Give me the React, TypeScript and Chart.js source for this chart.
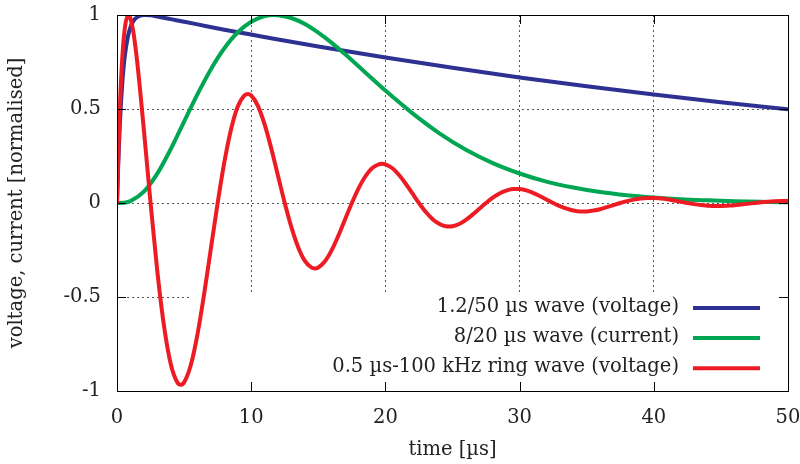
import React, { useEffect, useRef } from "react";
import { Chart, registerables } from "chart.js";

Chart.register(...registerables);

// ---- data ----
const seriesLabels = [
  "1.2/50 µs wave (voltage)",
  "8/20 µs wave (current)",
  "0.5 µs-100 kHz ring wave (voltage)",
];
const seriesColors = ["#2e3192", "#00a651", "#ed1c24"];

const blueT = [0, 0.1, 0.2, 0.3, 0.4, 0.5, 0.6, 0.8, 1, 1.25, 1.5, 2, 2.5, 3, 4, 5, 6, 8, 10, 12, 15, 20, 25, 30, 35, 40, 45, 50];
const blueV = [0, 0.225, 0.401, 0.538, 0.645, 0.728, 0.792, 0.881, 0.934, 0.971, 0.989, 1.0, 0.998, 0.992, 0.978, 0.964, 0.95, 0.922, 0.896, 0.87, 0.832, 0.774, 0.719, 0.668, 0.621, 0.577, 0.536, 0.498];

const greenT = [0, 0.5, 1, 2, 3, 4, 5, 6, 7, 8, 9, 10, 11, 11.7, 12, 13, 14, 15, 16, 17, 18, 19, 20, 22, 24, 26, 28, 30, 32, 34, 36, 38, 40, 42, 44, 46, 48, 50];
const greenV = [0, 0.001, 0.01, 0.06, 0.156, 0.286, 0.433, 0.579, 0.712, 0.823, 0.908, 0.964, 0.994, 1.0, 0.999, 0.984, 0.952, 0.906, 0.852, 0.791, 0.727, 0.662, 0.598, 0.478, 0.372, 0.283, 0.212, 0.157, 0.114, 0.082, 0.058, 0.041, 0.029, 0.02, 0.014, 0.009, 0.006, 0.004];

const redT = [
  0, 0.2, 0.4, 0.6, 0.85, 1.2, 1.5, 2, 2.5, 3, 3.5, 4, 4.5, 4.75, 5, 5.5, 6, 6.5, 7, 7.5, 8, 8.5, 9, 9.5, 9.75,
  10, 10.5, 11, 11.5, 12, 12.5, 13, 13.5, 14, 14.5, 14.75, 15, 15.5, 16, 16.5, 17, 17.5, 18, 18.5, 19, 19.5, 19.75,
  20, 20.5, 21, 21.5, 22, 22.5, 23, 23.5, 24, 24.5, 24.75, 25, 25.5, 26, 26.5, 27, 27.5, 28, 28.5, 29, 29.5, 29.75,
  30, 30.5, 31, 31.5, 32, 32.5, 33, 33.5, 34, 34.5, 34.75, 35, 35.5, 36, 36.5, 37, 37.5, 38, 38.5, 39, 39.5, 39.75,
  40, 40.5, 41, 41.5, 42, 42.5, 43, 43.5, 44, 44.5, 44.75, 45, 45.5, 46, 46.5, 47, 47.5, 48, 48.5, 49, 49.5, 49.75, 50,
];
const redV = [
  0, 0.483, 0.78, 0.939, 1.0, 0.917, 0.754, 0.391, 0, -0.36, -0.653, -0.855, -0.955, -0.967, -0.954, -0.862, -0.697, -0.481, -0.24, 0, 0.217, 0.392, 0.513, 0.573, 0.58,
  0.572, 0.517, 0.418, 0.289, 0.144, 0, -0.13, -0.235, -0.308, -0.344, -0.348, -0.343, -0.31, -0.251, -0.173, -0.086, 0, 0.078, 0.141, 0.185, 0.206, 0.209,
  0.206, 0.186, 0.15, 0.104, 0.052, 0, -0.047, -0.085, -0.111, -0.124, -0.125, -0.124, -0.112, -0.09, -0.062, -0.031, 0, 0.028, 0.051, 0.066, 0.074, 0.075,
  0.074, 0.067, 0.054, 0.037, 0.019, 0, -0.017, -0.03, -0.04, -0.045, -0.045, -0.045, -0.04, -0.033, -0.022, -0.011, 0, 0.01, 0.018, 0.024, 0.027, 0.027,
  0.027, 0.024, 0.02, 0.013, 0.007, 0, -0.006, -0.011, -0.014, -0.016, -0.016, -0.016, -0.014, -0.012, -0.008, -0.004, 0, 0.004, 0.007, 0.009, 0.01, 0.01, 0.01,
];

const xTicks = [0, 10, 20, 30, 40, 50];
const yTicks = [-1, -0.5, 0, 0.5, 1];
const xTitle = "time [µs]";
const yTitle = "voltage, current [normalised]";

const FONT_FAMILY = "'DejaVu Serif', serif";
const FONT_SIZE = 19.5;
const TEXT_COLOR = "#222";

function toPoints(t: number[], v: number[]) {
  return t.map((x, i) => ({ x, y: v[i] }));
}

const gnuplotPlugin = {
  id: "gnuplotDecor",
  beforeDatasetsDraw(chart: any) {
    const { ctx, chartArea: a } = chart;
    ctx.save();
    ctx.fillStyle = "#ffffff";
    const boxLeft = a.left + 73;
    const boxTop = a.bottom - 99;
    ctx.fillRect(boxLeft, boxTop, a.right - boxLeft, a.bottom - boxTop);
    ctx.restore();
  },
  afterDatasetsDraw(chart: any) {
    const { ctx, chartArea: a, scales } = chart;
    const xs = scales.x;
    const ys = scales.y;
    ctx.save();
    // frame
    ctx.strokeStyle = "#000";
    ctx.lineWidth = 1;
    ctx.strokeRect(Math.round(a.left) + 0.5, Math.round(a.top) + 0.5, Math.round(a.right - a.left), Math.round(a.bottom - a.top));
    // inner ticks (mirrored)
    const tl = 9;
    ctx.beginPath();
    xTicks.forEach((v) => {
      const px = Math.round(xs.getPixelForValue(v)) + 0.5;
      ctx.moveTo(px, a.bottom);
      ctx.lineTo(px, a.bottom - tl);
      ctx.moveTo(px, a.top);
      ctx.lineTo(px, a.top + tl);
    });
    yTicks.forEach((v) => {
      const py = Math.round(ys.getPixelForValue(v)) + 0.5;
      ctx.moveTo(a.left, py);
      ctx.lineTo(a.left + tl, py);
      ctx.moveTo(a.right, py);
      ctx.lineTo(a.right - tl, py);
    });
    ctx.stroke();
    // key
    const rows = [a.bottom - 83, a.bottom - 53, a.bottom - 22.7];
    ctx.font = `${FONT_SIZE}px ${FONT_FAMILY}`;
    ctx.textAlign = "right";
    ctx.textBaseline = "middle";
    chart.data.datasets.forEach((ds: any, i: number) => {
      const y = rows[i];
      ctx.fillStyle = TEXT_COLOR;
      ctx.fillText(ds.label, a.right - 109, y - 1);
      ctx.strokeStyle = ds.borderColor;
      ctx.lineWidth = 4;
      ctx.beginPath();
      ctx.moveTo(a.right - 95, y);
      ctx.lineTo(a.right - 28, y);
      ctx.stroke();
    });
    ctx.restore();
  },
};

export default function App() {
  const canvasRef = useRef<HTMLCanvasElement | null>(null);

  useEffect(() => {
    const canvas = canvasRef.current;
    if (!canvas) return;
    const font = { family: FONT_FAMILY, size: FONT_SIZE };
    const chart = new Chart(canvas, {
      type: "line",
      data: {
        datasets: [
          { label: seriesLabels[0], data: toPoints(blueT, blueV), borderColor: seriesColors[0], order: 3 },
          { label: seriesLabels[1], data: toPoints(greenT, greenV), borderColor: seriesColors[1], order: 2 },
          { label: seriesLabels[2], data: toPoints(redT, redV), borderColor: seriesColors[2], order: 1 },
        ] as any,
      },
      options: {
        responsive: false,
        animation: false,
        devicePixelRatio: 1,
        layout: { padding: { left: 0, right: 12, top: 15, bottom: 0 } },
        elements: {
          point: { radius: 0 },
          line: { borderWidth: 4, cubicInterpolationMode: "monotone", fill: false },
        },
        plugins: { legend: { display: false }, tooltip: { enabled: false } },
        scales: {
          x: {
            type: "linear",
            min: 0,
            max: 50,
            afterBuildTicks: (s: any) => {
              s.ticks = xTicks.map((v) => ({ value: v }));
            },
            afterFit: (s: any) => {
              s.height = 73;
              s.paddingLeft = 0;
              s.paddingRight = 0;
              s.paddingTop = 0;
              s.paddingBottom = 0;
            },
            ticks: { font, color: TEXT_COLOR, padding: 15, maxRotation: 0, callback: (v: any) => String(v) },
            grid: { color: "#555", lineWidth: 1, drawTicks: false },
            border: { display: false, dash: [2, 3] },
            title: { display: true, text: xTitle, font, color: TEXT_COLOR, padding: { top: 0, bottom: 2 } },
          },
          y: {
            type: "linear",
            min: -1,
            max: 1,
            afterBuildTicks: (s: any) => {
              s.ticks = yTicks.map((v) => ({ value: v }));
            },
            afterFit: (s: any) => {
              s.width = 117;
              s.paddingLeft = 0;
              s.paddingRight = 0;
              s.paddingTop = 0;
              s.paddingBottom = 0;
            },
            ticks: { font, color: TEXT_COLOR, padding: 16, callback: (v: any) => String(v) },
            grid: { color: "#555", lineWidth: 1, drawTicks: false },
            border: { display: false, dash: [2, 3] },
            title: { display: true, text: yTitle, font, color: TEXT_COLOR, padding: { top: 5, bottom: 0 } },
          },
        },
      } as any,
      plugins: [gnuplotPlugin],
    });
    return () => chart.destroy();
  }, []);

  return (
    <div style={{ position: "absolute", left: 0, top: 0, width: 800, height: 464, background: "#fff" }}>
      <canvas ref={canvasRef} width={800} height={464} style={{ display: "block" }} />
    </div>
  );
}
